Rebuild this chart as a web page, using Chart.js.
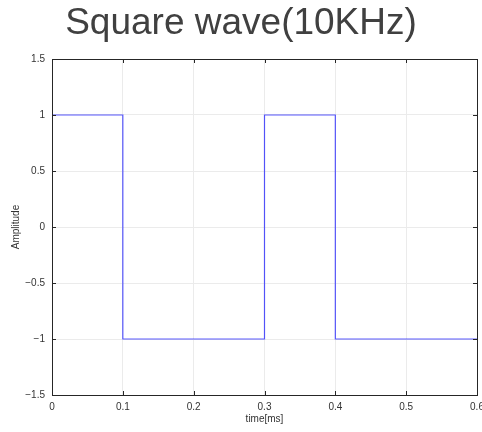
<!DOCTYPE html>
<html>

<head>
    <title>Square wave</title>
    <script src="https://cdn.jsdelivr.net/npm/chart.js"></script>
    <style>
        html, body {
            margin: 0;
            padding: 0;
            background: #ffffff;
        }

        .chart-container {
            width: 482px;
            height: 432px;
        }
    </style>
</head>

<body>
    <div class="chart-container">
        <canvas id="squareWaveChart"></canvas>
    </div>

    <script>
        // Corner points of the square wave
        var timeMs = [0, 0.1, 0.1, 0.3, 0.3, 0.4, 0.4, 0.6];
        var amplitude = [1, 1, -1, -1, 1, 1, -1, -1];

        // Tick values on each axis
        var xTicks = [0, 0.1, 0.2, 0.3, 0.4, 0.5, 0.6];
        var yTicks = [-1.5, -1, -0.5, 0, 0.5, 1, 1.5];

        var points = [];
        for (var i = 0; i < timeMs.length; i++) {
            points.push({ x: timeMs[i], y: amplitude[i] });
        }

        var fontFamily = "'Liberation Sans', Arial, Helvetica, sans-serif";
        var axisColor = '#262626';

        function formatTick(v) {
            return String(Number(v.toFixed(2))).replace('-', '\u2212');
        }

        // Box around the plot with small inward tick marks
        var boxPlugin = {
            id: 'box',
            afterDraw: function (chart) {
                var ctx = chart.ctx;
                var a = chart.chartArea;
                var xs = chart.scales.x;
                var ys = chart.scales.y;
                var len = 4;
                ctx.save();
                ctx.strokeStyle = axisColor;
                ctx.lineWidth = 1;
                ctx.beginPath();
                xTicks.forEach(function (t) {
                    var px = Math.round(xs.getPixelForValue(t)) + 0.5;
                    ctx.moveTo(px, a.bottom);
                    ctx.lineTo(px, a.bottom - len);
                    ctx.moveTo(px, a.top);
                    ctx.lineTo(px, a.top + len);
                });
                yTicks.forEach(function (t) {
                    var py = Math.round(ys.getPixelForValue(t)) + 0.5;
                    ctx.moveTo(a.left, py);
                    ctx.lineTo(a.left + len, py);
                    ctx.moveTo(a.right, py);
                    ctx.lineTo(a.right - len, py);
                });
                ctx.stroke();
                ctx.strokeRect(Math.round(a.left) + 0.5, Math.round(a.top) + 0.5,
                    Math.round(a.right - a.left), Math.round(a.bottom - a.top));
                ctx.restore();
            }
        };

        var ctx = document.getElementById('squareWaveChart').getContext('2d');
        var squareWaveChart = new Chart(ctx, {
            type: 'scatter',
            data: {
                datasets: [{
                    label: 'Square wave',
                    data: points,
                    showLine: true,
                    borderColor: 'rgba(0, 0, 255, 0.65)',
                    borderWidth: 1.2,
                    pointRadius: 0,
                    tension: 0,
                    fill: false
                }]
            },
            options: {
                responsive: true,
                maintainAspectRatio: false,
                animation: false,
                layout: {
                    padding: { left: 5, right: 5, top: 0, bottom: 0 }
                },
                plugins: {
                    legend: { display: false },
                    tooltip: { enabled: false },
                    title: {
                        display: true,
                        text: 'Square wave(10KHz)',
                        color: '#404040',
                        font: { family: fontFamily, size: 37, weight: 'normal', lineHeight: 1 },
                        padding: { top: 5.5, bottom: 16.5 }
                    }
                },
                scales: {
                    x: {
                        type: 'linear',
                        min: 0,
                        max: 0.6,
                        afterBuildTicks: function (scale) {
                            scale.ticks = xTicks.map(function (v) { return { value: v }; });
                        },
                        afterFit: function (scale) {
                            scale.height = 37;
                            scale.paddingLeft = 0;
                            scale.paddingRight = 0;
                        },
                        grid: { color: '#ebebeb', drawTicks: false },
                        border: { display: false },
                        ticks: {
                            color: '#333333',
                            padding: 6,
                            maxRotation: 0,
                            font: { family: fontFamily, size: 10 },
                            callback: formatTick
                        },
                        title: {
                            display: true,
                            text: 'time[ms]',
                            color: '#333333',
                            font: { family: fontFamily, size: 10 },
                            padding: { top: 0, bottom: 7 }
                        }
                    },
                    y: {
                        type: 'linear',
                        min: -1.5,
                        max: 1.5,
                        afterBuildTicks: function (scale) {
                            scale.ticks = yTicks.map(function (v) { return { value: v }; });
                        },
                        afterFit: function (scale) {
                            scale.width = 47;
                            scale.paddingTop = 0;
                            scale.paddingBottom = 0;
                        },
                        grid: { color: '#ebebeb', drawTicks: false },
                        border: { display: false },
                        ticks: {
                            color: '#333333',
                            padding: 7,
                            font: { family: fontFamily, size: 10 },
                            callback: formatTick
                        },
                        title: {
                            display: true,
                            text: 'Amplitude',
                            color: '#333333',
                            font: { family: fontFamily, size: 10 },
                            padding: { top: 5, bottom: 0 }
                        }
                    }
                }
            },
            plugins: [boxPlugin]
        });
    </script>
</body>

</html>
